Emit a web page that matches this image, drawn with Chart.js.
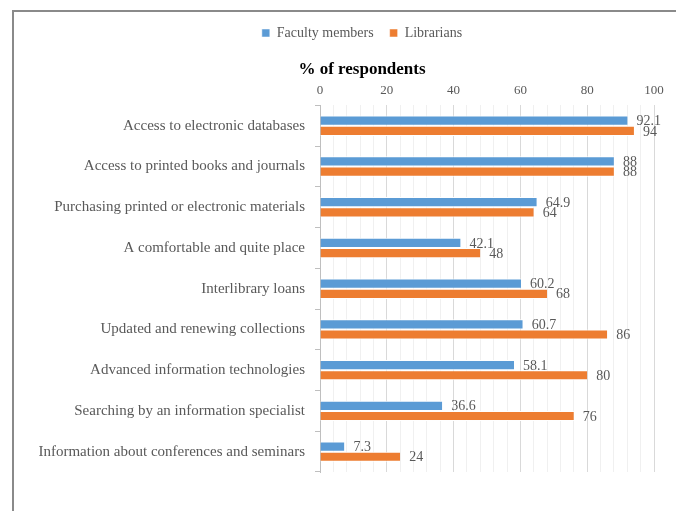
<!DOCTYPE html>
<html>
<head>
<meta charset="utf-8">
<script src="https://cdn.jsdelivr.net/npm/chart.js@4"></script>
<style>
  html, body { margin: 0; padding: 0; background: #fff; overflow: hidden; }
  #frame {
    position: absolute; left: 12px; top: 10px;
    width: 686px; height: 520px;
    border: 2px solid #8a8a8a;
  }
  #wrap { width: 686px; height: 500px; }
</style>
</head>
<body>
<div id="frame"><div id="wrap"><canvas id="grafico"></canvas></div></div>
<script>
const categorias = [
  'Access to electronic databases',
  'Access to printed books and journals',
  'Purchasing printed or electronic materials',
  'A comfortable and quite place',
  'Interlibrary loans',
  'Updated and renewing collections',
  'Advanced information technologies',
  'Searching by an information specialist',
  'Information about conferences and seminars'
];
const docentes = [92.1, 88, 64.9, 42.1, 60.2, 60.7, 58.1, 36.6, 7.3];
const bibliotecarios = [94, 88, 64, 48, 68, 86, 80, 76, 24];
const ticksX = [0, 20, 40, 60, 80, 100];

const serif = 'Liberation Serif';
const cinza = '#595959';

// escreve o valor ao lado do fim de cada barra
const rotulos = {
  id: 'rotulos',
  afterDatasetsDraw(chart) {
    const c = chart.ctx;
    c.save();
    c.font = '14px "' + serif + '"';
    c.fillStyle = cinza;
    c.textBaseline = 'middle';
    c.textAlign = 'left';
    chart.data.datasets.forEach((ds, i) => {
      chart.getDatasetMeta(i).data.forEach((bar, j) => {
        c.fillText(String(ds.data[j]), bar.x + 9, bar.y + 1);
      });
    });
    c.restore();
  }
};

const ctx = document.getElementById('grafico').getContext('2d');

const grafico = new Chart(ctx, {
  type: 'bar',
  data: {
    labels: categorias,
    datasets: [{
      label: 'Faculty members',
      data: docentes,
      backgroundColor: '#5b9bd5',
      borderColor: '#ffffff',
      borderWidth: { top: 1, bottom: 1, left: 0, right: 0 },
      borderSkipped: false
    }, {
      label: 'Librarians',
      data: bibliotecarios,
      backgroundColor: '#ed7d31',
      borderColor: '#ffffff',
      borderWidth: { top: 1, bottom: 1, left: 0, right: 0 },
      borderSkipped: false
    }]
  },
  options: {
    indexAxis: 'y',
    responsive: true,
    maintainAspectRatio: false,
    animation: false,
    categoryPercentage: 0.5,
    barPercentage: 1,
    layout: { padding: { top: -2, left: 10, right: 0, bottom: 40 } },
    plugins: {
      legend: {
        position: 'top',
        labels: {
          boxWidth: 8,
          boxHeight: 8,
          padding: 16,
          color: cinza,
          font: { family: serif, size: 14 }
        }
      },
      title: {
        display: true,
        weight: 500,
        text: '% of respondents',
        color: '#000',
        font: { family: serif, size: 17, weight: 'bold' },
        padding: { top: 9, bottom: 0 }
      },
      tooltip: { enabled: false }
    },
    scales: {
      x: {
        position: 'top',
        min: 0,
        max: 100,
        border: { display: false },
        grid: {
          drawTicks: false,
          color: (c) => ticksX.includes(c.tick.value) ? '#d9d9d9' : '#f0f0f0'
        },
        ticks: {
          stepSize: 4,
          autoSkip: false,
          maxRotation: 0,
          padding: 7,
          color: cinza,
          font: { family: serif, size: 13 },
          callback: (v) => ticksX.includes(v) ? v : ''
        },
        afterFit: (s) => { s.height = 26; }
      },
      y: {
        border: { display: true, color: '#bfbfbf' },
        grid: {
          drawOnChartArea: false,
          tickLength: 5,
          color: '#bfbfbf'
        },
        ticks: {
          padding: 10,
          color: cinza,
          font: { family: serif, size: 15 }
        },
        afterFit: (s) => { s.width = 296; }
      },
      direita: {
        type: 'linear',
        position: 'right',
        display: true,
        grid: { display: false },
        border: { display: false },
        ticks: { display: false },
        afterFit: (s) => { s.width = 46; }
      }
    }
  },
  plugins: [rotulos]
});
</script>
</body>
</html>
